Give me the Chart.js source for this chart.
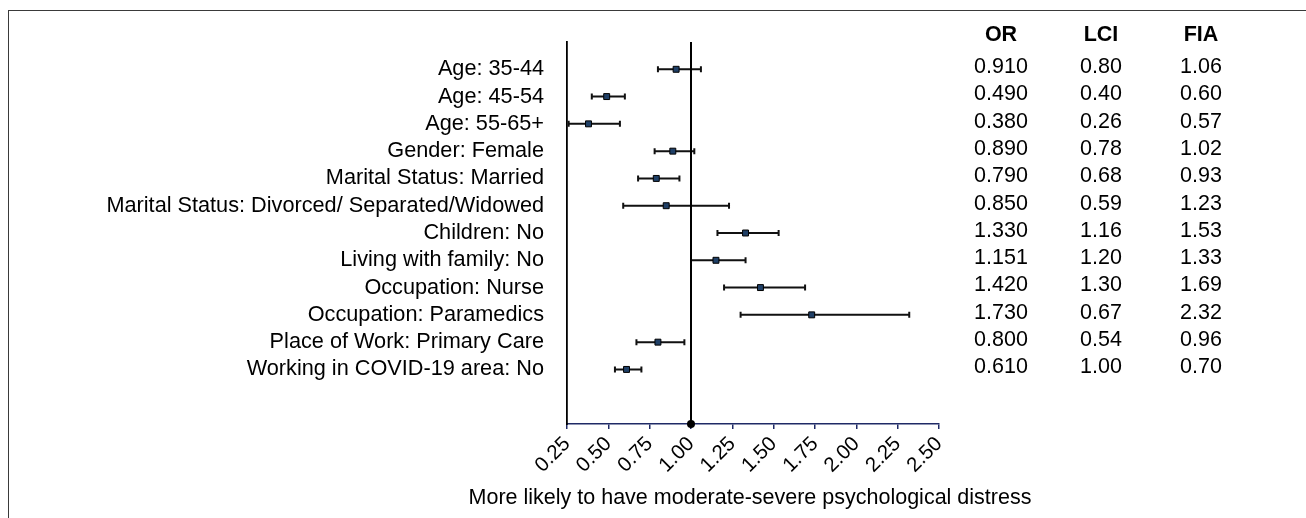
<!DOCTYPE html>
<html>
<head>
<meta charset="utf-8">
<script src="https://cdn.jsdelivr.net/npm/chart.js@4"></script>
<style>
    body { margin: 0; background: #fff; }
    #khung { position: absolute; left: 8px; top: 10px; width: 1400px; height: 600px; border: 1.5px solid #3a3a3a; }
    #bieu-do { position: absolute; left: 0; top: 0; }
</style>
</head>
<body>
<div id="khung"></div>
<canvas id="bieu-do" width="1306" height="518"></canvas>
<script>
// rows of the forest plot, top to bottom
const nhan = [
    'Age: 35-44',
    'Age: 45-54',
    'Age: 55-65+',
    'Gender: Female',
    'Marital Status: Married',
    'Marital Status: Divorced/ Separated/Widowed',
    'Children: No',
    'Living with family: No',
    'Occupation: Nurse',
    'Occupation: Paramedics',
    'Place of Work: Primary Care',
    'Working in COVID-19 area: No'
];

// table columns as printed
const orText = ['0.910', '0.490', '0.380', '0.890', '0.790', '0.850', '1.330', '1.151', '1.420', '1.730', '0.800', '0.610'];
const lciText = ['0.80', '0.40', '0.26', '0.78', '0.68', '0.59', '1.16', '1.20', '1.30', '0.67', '0.54', '1.00'];
const fiaText = ['1.06', '0.60', '0.57', '1.02', '0.93', '1.23', '1.53', '1.33', '1.69', '2.32', '0.96', '0.70'];

// what the bars actually show
const orVals = [0.91, 0.49, 0.38, 0.89, 0.79, 0.85, 1.33, 1.151, 1.42, 1.73, 0.80, 0.61];
const thapVals = [0.80, 0.40, 0.26, 0.78, 0.68, 0.59, 1.16, 1.00, 1.20, 1.30, 0.67, 0.54];
const caoVals = [1.06, 0.60, 0.57, 1.02, 0.93, 1.23, 1.53, 1.33, 1.69, 2.32, 0.96, 0.70];

const xTicks = [0.25, 0.5, 0.75, 1.0, 1.25, 1.5, 1.75, 2.0, 2.25, 2.5];
const tieuDeX = 'More likely to have moderate-severe psychological distress';
const tieuDeBang = ['OR', 'LCI', 'FIA'];

const FONT = '"Liberation Sans", Arial, sans-serif';
const NAVY = '#1f2a66';
Chart.defaults.font.family = FONT;

const thanhSaiSo = {
    id: 'thanhSaiSo',
    beforeDatasetsDraw(chart) {
        const ctx = chart.ctx;
        const x = chart.scales.x, y = chart.scales.y;
        ctx.save();
        ctx.strokeStyle = '#111';
        ctx.lineWidth = 2;
        orVals.forEach((v, i) => {
            const py = y.getPixelForValue(i + 1);
            const x1 = x.getPixelForValue(thapVals[i]);
            const x2 = x.getPixelForValue(caoVals[i]);
            ctx.beginPath();
            ctx.moveTo(x1, py); ctx.lineTo(x2, py);
            ctx.moveTo(x1, py - 3); ctx.lineTo(x1, py + 3);
            ctx.moveTo(x2, py - 3); ctx.lineTo(x2, py + 3);
            ctx.stroke();
        });
        ctx.restore();
    }
};

// table on the right plus the x axis title (wider than the plot, so drawn here)
const bangSo = {
    id: 'bangSo',
    afterDraw(chart) {
        const ctx = chart.ctx;
        const y = chart.scales.y;
        const area = chart.chartArea;
        const cot = [1001, 1101, 1201];
        const cacCot = [orText, lciText, fiaText];
        ctx.save();
        ctx.fillStyle = '#000';
        ctx.textAlign = 'center';
        ctx.textBaseline = 'middle';
        ctx.font = 'bold 21.5px ' + FONT;
        tieuDeBang.forEach((t, j) => ctx.fillText(t, cot[j], 35));
        ctx.font = '21.5px ' + FONT;
        cacCot.forEach((col, j) => {
            col.forEach((t, i) => ctx.fillText(t, cot[j], y.getPixelForValue(i + 1) - 2));
        });
        ctx.fillText(tieuDeX, (area.left + area.right) / 2 - 3, 498);
        ctx.restore();
    }
};

new Chart(document.getElementById('bieu-do').getContext('2d'), {
    type: 'scatter',
    data: {
        datasets: [
            {
                type: 'line',
                data: [{ x: 1, y: 0 }, { x: 1, y: 14 }],
                borderColor: '#000',
                borderWidth: 2,
                pointRadius: [0, 4],
                pointBackgroundColor: '#000',
                pointBorderWidth: 0,
                clip: false
            },
            {
                data: orVals.map((v, i) => ({ x: v, y: i + 1 })),
                pointStyle: 'rect',
                pointRadius: 4.2,
                backgroundColor: '#1f3f66',
                borderColor: '#000',
                borderWidth: 1,
                clip: false
            }
        ]
    },
    options: {
        responsive: false,
        animation: false,
        events: [],
        layout: { padding: { left: 0, right: 367, top: 42, bottom: 0 } },
        plugins: {
            legend: { display: false },
            tooltip: { enabled: false }
        },
        scales: {
            x: {
                type: 'linear',
                min: xTicks[0],
                max: xTicks[xTicks.length - 1],
                afterFit: s => { s.height = 94; },
                afterBuildTicks: s => { s.ticks = xTicks.map(v => ({ value: v })); },
                ticks: {
                    callback: v => v.toFixed(2),
                    minRotation: 45,
                    maxRotation: 45,
                    autoSkip: false,
                    color: '#000',
                    padding: 3,
                    font: { size: 20.5 }
                },
                grid: { display: true, drawOnChartArea: false, drawTicks: true, tickLength: 5, color: NAVY, lineWidth: 1.5 },
                border: { display: true, color: NAVY, width: 1.5 }
            },
            y: {
                type: 'linear',
                min: 0,
                max: 14,
                reverse: true,
                afterFit: s => { s.width = 567; },
                ticks: {
                    stepSize: 1,
                    autoSkip: false,
                    callback: v => nhan[v - 1] || '',
                    color: '#000',
                    padding: 23,
                    font: { size: 21.7 }
                },
                grid: { display: true, drawOnChartArea: false, drawTicks: false },
                border: { display: true, color: '#000', width: 1.8 }
            }
        }
    },
    plugins: [thanhSaiSo, bangSo]
});
</script>
</body>
</html>
